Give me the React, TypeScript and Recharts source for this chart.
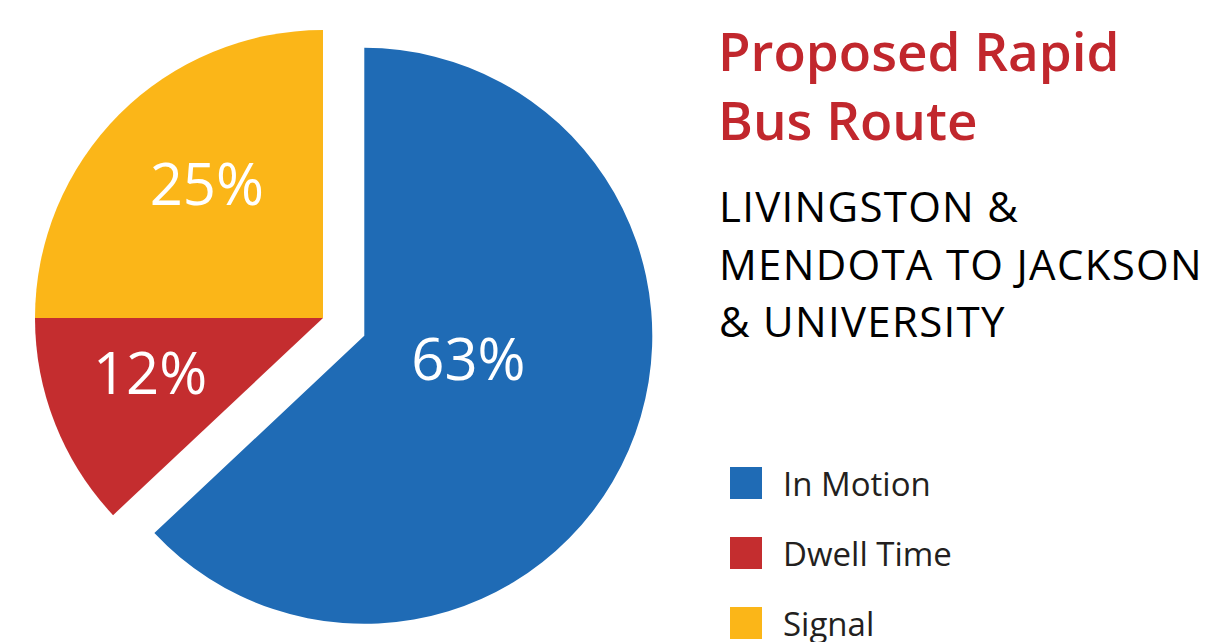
import { PieChart, Pie, Cell, Legend } from 'recharts';

const SEGMENTS = ['In Motion', 'Dwell Time', 'Signal'];
const SHARES = [63, 12, 25];
const COLORS = ['#1f6bb5', '#c42d2f', '#fbb618'];

const TITLE_LINES = ['Proposed Rapid', 'Bus Route'];
const SUBTITLE_LINES = ['LIVINGSTON &', 'MENDOTA TO JACKSON', '& UNIVERSITY'];

const data = SEGMENTS.map((name, i) => ({ name, value: SHARES[i], color: COLORS[i] }));

// pie geometry
const CX = 323;
const CY = 318;
const RADIUS = 288;
const EXPLODE = 45;
const START = 90;
const SPLIT = START - (360 * SHARES[0]) / 100;
const blueMid = ((START + SPLIT) / 2) * (Math.PI / 180);
const blueCx = CX + EXPLODE * Math.cos(blueMid);
const blueCy = CY - EXPLODE * Math.sin(blueMid);

// label tweaks: radius as share of outer radius, angle shift in degrees
const LABEL_POS: Record<string, { r: number; da: number }> = {
    'In Motion': { r: 0.37, da: 11 },
    'Dwell Time': { r: 0.63, da: -4 },
    'Signal': { r: 0.615, da: -4 },
};

const LABEL_SIZE = 58;

const renderLabel = (props: any) => {
    const { cx, cy, midAngle, outerRadius, name, value } = props;
    const pos = LABEL_POS[name] || { r: 0.6, da: 0 };
    const a = ((midAngle + pos.da) * Math.PI) / 180;
    const x = cx + outerRadius * pos.r * Math.cos(a);
    const y = cy - outerRadius * pos.r * Math.sin(a);
    return (
        <text
            x={x}
            y={y + LABEL_SIZE * 0.36}
            textAnchor="middle"
            fill="#ffffff"
            fontSize={LABEL_SIZE}
            fontFamily="'Open Sans', sans-serif"
        >
            {value}%
        </text>
    );
};

const renderLegend = (props: any) => {
    const items = [...(props.payload || [])].sort(
        (a: any, b: any) => SEGMENTS.indexOf(a.value) - SEGMENTS.indexOf(b.value)
    );
    return (
        <div>
            {items.map((entry: any) => (
                <div key={entry.value} style={{ display: 'flex', alignItems: 'flex-start', height: 70 }}>
                    <div style={{ width: 32, height: 32, background: entry.color }} />
                    <span
                        style={{
                            marginLeft: 21,
                            fontFamily: "'Open Sans', sans-serif",
                            fontSize: 33,
                            lineHeight: '34px',
                            color: '#231f20',
                        }}
                    >
                        {entry.value}
                    </span>
                </div>
            ))}
        </div>
    );
};

export default function App() {
    return (
        <div style={{ position: 'absolute', left: 0, top: 0, width: 1210, height: 642, background: '#fff' }}>
            <PieChart width={1210} height={642} margin={{ top: 0, right: 0, bottom: 0, left: 0 }}>
                <Pie
                    data={data.slice(0, 1)}
                    dataKey="value"
                    nameKey="name"
                    cx={blueCx}
                    cy={blueCy}
                    outerRadius={RADIUS}
                    startAngle={START}
                    endAngle={SPLIT}
                    stroke="none"
                    label={renderLabel}
                    labelLine={false}
                    isAnimationActive={false}
                >
                    {data.slice(0, 1).map((d) => (
                        <Cell key={d.name} fill={d.color} />
                    ))}
                </Pie>
                <Pie
                    data={data.slice(1)}
                    dataKey="value"
                    nameKey="name"
                    cx={CX}
                    cy={CY}
                    outerRadius={RADIUS}
                    startAngle={SPLIT}
                    endAngle={START - 360}
                    stroke="none"
                    label={renderLabel}
                    labelLine={false}
                    isAnimationActive={false}
                >
                    {data.slice(1).map((d) => (
                        <Cell key={d.name} fill={d.color} />
                    ))}
                </Pie>
                <Legend
                    layout="vertical"
                    content={renderLegend}
                    wrapperStyle={{ position: 'absolute', left: 730, top: 467, width: 300 }}
                />
            </PieChart>
            <svg
                width={1210}
                height={642}
                style={{ position: 'absolute', left: 0, top: 0, pointerEvents: 'none' }}
            >
                {TITLE_LINES.map((line, i) => (
                    <text
                        key={line}
                        x={718}
                        y={71 + i * 69}
                        fill="#c1272d"
                        fontSize={53}
                        fontWeight={600}
                        fontFamily="'Open Sans', sans-serif"
                    >
                        {line}
                    </text>
                ))}
                {SUBTITLE_LINES.map((line, i) => (
                    <text
                        key={line}
                        x={719}
                        y={222 + i * 57.5}
                        fill="#000"
                        fontSize={42}
                        letterSpacing={1.3}
                        fontFamily="'Open Sans', sans-serif"
                    >
                        {line}
                    </text>
                ))}
            </svg>
        </div>
    );
}
